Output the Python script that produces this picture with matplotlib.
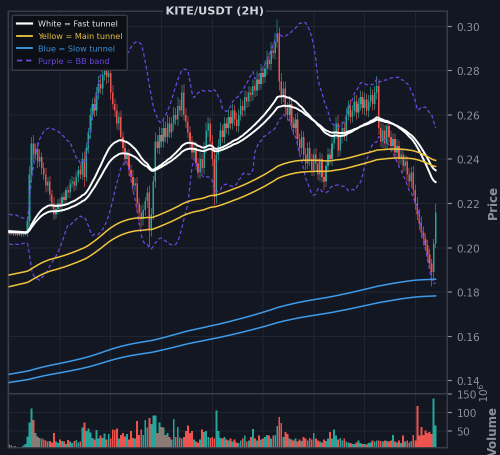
import io
import numpy as np
import pandas as pd
import matplotlib
matplotlib.use("Agg")
import matplotlib.pyplot as plt
from matplotlib.lines import Line2D
from matplotlib.ticker import MultipleLocator, FormatStrFormatter, FixedLocator

# KITE/USDT 2h candles, prices in units of 1e-4 USDT
close_bp = [
    2065, 2062, 2060, 2063, 2058, 2061, 2057, 2060, 2064, 2120,
    2330, 2470, 2420, 2445, 2390, 2410, 2360, 2330, 2280, 2300,
    2240, 2200, 2150, 2175, 2200, 2190, 2230, 2215, 2260, 2250,
    2290, 2300, 2280, 2320, 2350, 2330, 2400, 2320, 2450, 2520,
    2600, 2650, 2620, 2700, 2740, 2720, 2780, 2810, 2770, 2790,
    2700, 2650, 2620, 2560, 2590, 2500, 2450, 2400, 2420, 2350,
    2320, 2280, 2290, 2200, 2160, 2130, 2170, 2210, 2250, 2080,
    2150, 2300, 2480, 2450, 2510, 2480, 2540, 2500, 2560, 2520,
    2560, 2600, 2580, 2640, 2620, 2700, 2600, 2570, 2520, 2480,
    2430, 2450, 2380, 2340, 2400, 2360, 2450, 2530, 2560, 2480,
    2400, 2230, 2420, 2460, 2530, 2500, 2560, 2540, 2590, 2560,
    2620, 2580, 2550, 2600, 2640, 2620, 2680, 2660, 2700, 2690,
    2730, 2710, 2760, 2740, 2790, 2770, 2810, 2850, 2830, 2890,
    2880, 2930, 2970, 2750, 2680, 2720, 2630, 2600, 2650, 2560,
    2540, 2580, 2490, 2450, 2500, 2420, 2380, 2450, 2400, 2350,
    2420, 2380, 2330, 2400, 2320, 2300, 2370, 2420, 2400, 2470,
    2520, 2560, 2440, 2500, 2540, 2510, 2600, 2640, 2590, 2620,
    2660, 2610, 2650, 2680, 2630, 2670, 2620, 2660, 2690, 2650,
    2700, 2730, 2540, 2480, 2530, 2470, 2550, 2500, 2460, 2490,
    2430, 2460, 2400, 2420, 2370, 2390, 2330, 2300, 2340, 2260,
    2200, 2150, 2110, 2070, 2040, 2010, 1970, 1930, 1890, 2020,
    2160,
]
# closes before the visible window (feed the 20-bar BB band)
history_bp = [2110, 2080, 2040, 2100, 2140, 2060, 2030, 2110, 2130, 2050,
              2090, 2120, 2035, 2095, 2135, 2050, 2075, 2110, 2065]

wick_hi_bp = [
    8, 6, 6, 8, 6, 6, 8, 6, 8, 20,
    40, 30, 40, 25, 30, 35, 20, 25, 30, 20,
    25, 20, 30, 25, 20, 25, 15, 25, 15, 20,
    20, 25, 20, 25, 20, 25, 30, 35, 25, 20,
    30, 25, 30, 25, 35, 30, 30, 40, 35, 30,
    30, 35, 25, 30, 25, 30, 25, 30, 20, 25,
    25, 30, 25, 30, 25, 30, 25, 20, 25, 30,
    30, 25, 40, 30, 35, 30, 35, 30, 40, 30,
    30, 35, 30, 40, 30, 35, 40, 30, 25, 30,
    25, 30, 30, 25, 30, 25, 30, 35, 30, 25,
    30, 40, 25, 30, 35, 25, 30, 25, 35, 30,
    30, 25, 30, 25, 35, 25, 30, 25, 30, 25,
    30, 25, 35, 30, 40, 30, 35, 40, 30, 40,
    35, 40, 60, 25, 40, 30, 30, 25, 35, 25,
    30, 25, 30, 25, 30, 25, 30, 25, 30, 25,
    25, 30, 25, 30, 25, 30, 25, 30, 25, 30,
    35, 30, 40, 25, 30, 25, 30, 25, 30, 25,
    25, 30, 25, 30, 25, 30, 25, 30, 35, 25,
    30, 45, 30, 25, 30, 25, 30, 25, 30, 25,
    25, 30, 25, 30, 25, 30, 25, 30, 25, 30,
    25, 30, 25, 30, 25, 25, 25, 25, 20, 20,
    40,
]
wick_lo_bp = [
    8, 6, 8, 6, 8, 6, 8, 6, 8, 15,
    20, 25, 30, 25, 30, 25, 30, 25, 30, 25,
    30, 25, 25, 20, 25, 20, 30, 25, 20, 25,
    25, 20, 25, 20, 25, 20, 25, 45, 20, 25,
    30, 25, 30, 25, 30, 25, 30, 25, 30, 25,
    30, 25, 30, 25, 30, 25, 30, 25, 30, 25,
    25, 30, 25, 30, 40, 40, 30, 25, 30, 75,
    30, 25, 30, 25, 30, 25, 30, 25, 30, 25,
    25, 30, 25, 30, 25, 30, 25, 30, 25, 30,
    30, 25, 30, 25, 30, 25, 30, 25, 30, 25,
    30, 40, 30, 25, 30, 25, 30, 25, 30, 25,
    25, 30, 25, 30, 25, 30, 25, 30, 25, 30,
    25, 30, 25, 30, 25, 30, 25, 30, 25, 30,
    25, 30, 25, 40, 30, 25, 30, 25, 30, 25,
    30, 25, 30, 25, 30, 25, 30, 25, 30, 25,
    25, 30, 25, 30, 25, 40, 25, 30, 25, 30,
    25, 30, 30, 25, 30, 25, 30, 25, 30, 25,
    25, 30, 25, 30, 25, 30, 25, 30, 25, 30,
    25, 30, 30, 25, 30, 25, 30, 25, 30, 25,
    30, 25, 30, 25, 30, 25, 30, 25, 30, 25,
    30, 25, 30, 25, 30, 25, 30, 25, 65, 40,
    20,
]
# volume in millions of KITE
volume_m = [
    14, 12, 9, 10, 8, 6, 8, 11, 15, 36,
    74, 112, 80, 45, 36, 32, 30, 28, 25, 22,
    24, 20, 45, 22, 18, 28, 24, 22, 16, 26,
    22, 18, 24, 26, 20, 22, 60, 74, 50, 58,
    46, 32, 28, 53, 30, 38, 32, 44, 28, 42,
    30, 55, 53, 57, 30, 40, 45, 36, 42, 28,
    50, 32, 30, 78, 40, 55, 40, 80, 60, 86,
    70, 93, 93, 45, 73, 62, 60, 40, 45, 35,
    28, 83, 35, 62, 33, 30, 34, 50, 66, 45,
    50, 28, 22, 20, 28, 55, 48, 50, 35, 32,
    35, 30, 106, 50, 32, 30, 35, 28, 25, 30,
    22, 28, 20, 18, 25, 30, 38, 22, 25, 35,
    56, 30, 25, 38, 28, 30, 35, 40, 38, 30,
    38, 40, 64, 88, 72, 35, 48, 42, 30, 28,
    25, 30, 22, 28, 24, 35, 30, 25, 32, 28,
    45, 30, 25, 22, 20, 28, 24, 30, 48, 30,
    55, 38, 28, 32, 25, 30, 22, 20, 18, 16,
    15, 20, 25, 18, 15, 16, 14, 18, 20, 25,
    22, 25, 25, 24, 22, 25, 24, 22, 25, 40,
    22, 20, 25, 18, 38, 22, 25, 20, 24, 40,
    25, 118, 38, 62, 40, 52, 45, 48, 42, 138,
    66,
]

# tunnel EMAs: spans and the level each line had when the window opens
fast_spans, fast_seeds = (40, 55), (0.2076, 0.2070)
main_spans, main_seeds = (185, 215), (0.1875, 0.1822)
slow_spans, slow_seeds = (780, 920), (0.1427, 0.1390)

BG = "#131722"
GRID = "#242833"
SPINE = "#3b3f4a"
TXT = "#8d919c"
UP, DOWN = "#26a69a", "#ef5350"
WHITE, YELLOW, BLUE, PURPLE = "#ffffff", "#f0c43c", "#3d9be9", "#6a48dc"

close = np.array(close_bp) / 1e4
open_ = np.r_[close[0], close[:-1]]
high = np.maximum(open_, close) + np.array(wick_hi_bp) / 1e4
low = np.minimum(open_, close) - np.array(wick_lo_bp) / 1e4
vol = np.array(volume_m)
x = np.arange(len(close))


def ema(values, span, seed):
    s = pd.Series(np.r_[seed, values])
    return s.ewm(span=span, adjust=False).mean().values[1:]


full = pd.Series(np.r_[np.array(history_bp) / 1e4, close])
bb_mid = full.rolling(20).mean()
bb_std = full.rolling(20).std(ddof=0)
bb_up = (bb_mid + 2 * bb_std).values[-len(close):]
bb_lo = (bb_mid - 2 * bb_std).values[-len(close):]

fig = plt.figure(figsize=(5, 4.56), dpi=100, facecolor=BG)
ax = fig.add_axes([0.016, 0.136, 0.878, 0.8383], facecolor=BG)
axv = fig.add_axes([0.016, 0.0175, 0.878, 0.1185], facecolor=BG, sharex=ax)

# candles
colors = np.where(close >= open_, UP, DOWN)
ax.vlines(x, low, high, colors=colors, linewidth=0.6, alpha=0.8, zorder=2)
body = np.maximum(np.abs(close - open_), 0.0003)
ax.bar(x, body, bottom=np.minimum(open_, close), width=0.82, color=colors,
       linewidth=0, zorder=2)

for sp, sd in zip(fast_spans, fast_seeds):
    ax.plot(x, ema(close, sp, sd), color=WHITE, lw=1.4, zorder=4)
for sp, sd in zip(main_spans, main_seeds):
    ax.plot(x, ema(close, sp, sd), color=YELLOW, lw=1.1, zorder=4)
for sp, sd in zip(slow_spans, slow_seeds):
    ax.plot(x, ema(close, sp, sd), color=BLUE, lw=1.1, zorder=4)
ax.plot(x, bb_up, color=PURPLE, lw=0.9, ls=(0, (3, 2)), zorder=3)
ax.plot(x, bb_lo, color=PURPLE, lw=0.9, ls=(0, (3, 2)), zorder=3)

axv.bar(x, vol, width=0.92, color=colors, linewidth=0)

ax.set_xlim(-0.6, 215.6)
ax.set_ylim(0.1342, 0.3068)
ax.yaxis.set_major_locator(FixedLocator(np.arange(0.14, 0.301, 0.02)))
ax.yaxis.set_major_formatter(FormatStrFormatter("%.2f"))
axv.set_ylim(6, 152)
axv.yaxis.set_major_locator(FixedLocator([50, 100, 150]))
axv.yaxis.set_major_formatter(FormatStrFormatter("%d"))
ax.xaxis.set_major_locator(MultipleLocator(25))

for a in (ax, axv):
    a.yaxis.tick_right()
    a.yaxis.set_label_position("right")
    a.tick_params(axis="y", colors=TXT, labelsize=7.5, length=3.5, width=0.8)
    a.tick_params(axis="x", length=0, labelbottom=False)
    a.grid(True, color=GRID, linewidth=0.6)
    a.set_axisbelow(True)
    for s in a.spines.values():
        s.set_color(SPINE)
        s.set_linewidth(1.0)

ax.set_ylabel("Price", color=TXT, fontsize=8.5, fontweight="bold")
ax.yaxis.set_label_coords(1.091, 0.5)
axv.set_ylabel("Volume", color=TXT, fontsize=8.5, fontweight="bold")
axv.yaxis.set_label_coords(1.091, 0.3)
fig.text(0.968, 1 - 393 / 456, r"$10^{6}$", rotation=90, color=TXT,
         fontsize=7.5, ha="center", va="center")

fig.text(0.429, 0.9743, "KITE/USDT (2H)", ha="center", va="center",
         fontsize=8.1, fontweight="bold", color="#d1d4dc",
         bbox=dict(facecolor=BG, edgecolor="none", pad=1.5))

handles = [
    Line2D([], [], color=WHITE, lw=1.6),
    Line2D([], [], color=YELLOW, lw=1.3),
    Line2D([], [], color=BLUE, lw=1.3),
    Line2D([], [], color=PURPLE, lw=1.3, ls=(0, (3, 2))),
]
labels = ["White = Fast tunnel", "Yellow = Main tunnel",
          "Blue = Slow tunnel", "Purple = BB band"]
leg = ax.legend(handles, labels, loc="upper left", fontsize=5.8,
                facecolor="#0c0f16", edgecolor=SPINE, framealpha=0.95,
                handlelength=1.9, handletextpad=0.7, labelspacing=0.62,
                borderpad=0.6)
for t, c in zip(leg.get_texts(), ["#e6e6e6", "#e8bf45", "#3f8fd6", "#6a48dc"]):
    t.set_color(c)

# render at 2x and average down, so the 2px candles come out smooth
buf = io.BytesIO()
fig.savefig(buf, format="png", dpi=200, facecolor=BG)
buf.seek(0)
img = plt.imread(buf)
h, w = img.shape[0] // 2, img.shape[1] // 2
small = img[:2 * h, :2 * w].reshape(h, 2, w, 2, -1).mean(axis=(1, 3))
plt.imsave("out.png", np.clip(small, 0, 1))
